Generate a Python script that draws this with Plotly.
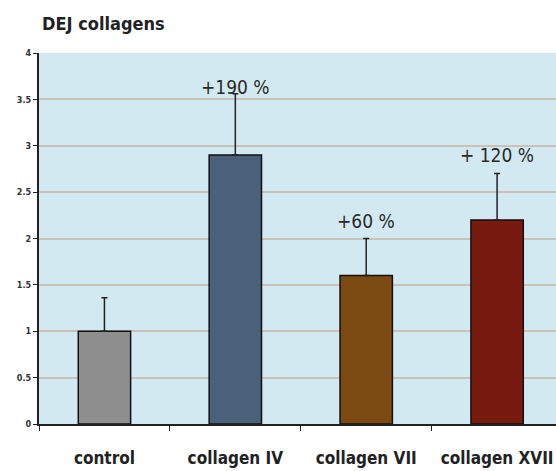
import plotly.graph_objects as go

categories = ["control", "collagen IV", "collagen VII", "collagen XVII"]
values = [1.0, 2.9, 1.6, 2.2]
errors_up = [0.36, 0.66, 0.4, 0.5]
labels = ["", "+190 %", "+60 %", "+ 120 %"]
colors = ["#8E8E8E", "#4B6079", "#7B4A12", "#781A10"]
y_ticks = [0, 0.5, 1, 1.5, 2, 2.5, 3, 3.5, 4]
y_ticktext = ["0", "0.5", "1", "1.5", "2", "2.5", "3", "3.5", "4"]

narrow = "DejaVu Sans Condensed, Roboto Condensed, Liberation Sans Narrow, Roboto"

fig = go.Figure()
fig.add_trace(go.Bar(
    x=categories, y=values, width=0.4,
    marker=dict(color=colors, line=dict(color="#111111", width=1.5)),
    error_y=dict(type="data", array=errors_up, arrayminus=[0]*4, symmetric=False,
                 color="#222222", thickness=1.5, width=3),
))

shifts = {"collagen IV": -6, "collagen VII": 5, "collagen XVII": 6}
for c, v, e, t in zip(categories, values, errors_up, labels):
    if t:
        fig.add_annotation(x=c, y=v + e, text=t, showarrow=False, yanchor="bottom",
                           yshift=shifts[c],
                           font=dict(family=narrow, size=19, color="#2a2a2a"))

fig.update_layout(
    width=556, height=471,
    margin=dict(l=39, r=0, t=53, b=47),
    paper_bgcolor="white", plot_bgcolor="#D3E9F1",
    showlegend=False,
    title=dict(text="<b>DEJ collagens</b>", x=42/556, xanchor="left", y=1 - 24/471, yanchor="middle",
               font=dict(family=narrow, size=18, color="#222222")),
    xaxis=dict(range=[-0.5, 3.45], showline=True, linecolor="#222222", linewidth=2,
               ticks="outside", tickson="boundaries", ticklen=5, tickcolor="#222222",
               tickfont=dict(family=narrow, size=17, color="#222222"),
               ticktext=["<b>%s</b>" % c for c in categories], tickvals=categories,
               ticklabelstandoff=18,
               showgrid=False, automargin=False),
    yaxis=dict(range=[0, 4], tickvals=y_ticks, ticktext=["<b>%s</b>" % t for t in y_ticktext],
               showline=True, linecolor="#222222", linewidth=2,
               ticks="outside", ticklen=4, tickcolor="#222222",
               tickfont=dict(family=narrow, size=9, color="#333333"),
               gridcolor="#C8C2BA", gridwidth=1.5, zeroline=False, automargin=False),
)

fig.write_html("out.html", config={"displayModeBar": False},
               post_script="document.body.style.margin='0';document.body.style.overflow='hidden';")
